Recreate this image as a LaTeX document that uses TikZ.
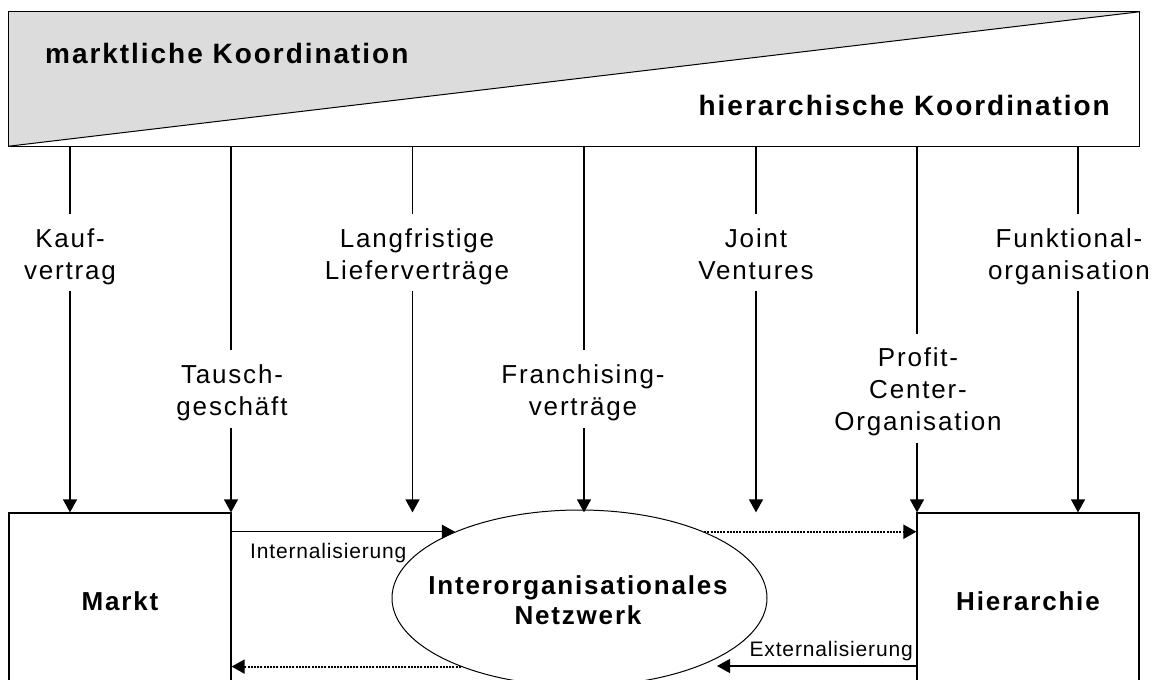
\documentclass[tikz,border=0pt]{standalone}
\usepackage{fontspec}
\setmainfont{Liberation Sans}
\newfontfamily\spaced[LetterSpace=7]{Liberation Sans}
\newfontfamily\spacedsmall[LetterSpace=4]{Liberation Sans}
\usetikzlibrary{arrows.meta, shapes.geometric, calc}
\definecolor{headgray}{HTML}{DCDCDC}

\begin{document}
\begin{tikzpicture}[
  x=1pt, y=-1pt,
  head/.style={inner sep=0pt, font=\spaced\bfseries\fontsize{28}{34}\selectfont},
  lab/.style={align=center, inner sep=0pt, anchor=north,
              font=\spaced\fontsize{26}{32}\selectfont},
  small/.style={inner sep=0pt, font=\spacedsmall\fontsize{21}{25}\selectfont},
  box/.style={draw, overlay, line width=1.2pt, inner sep=0pt, minimum width=222pt,
              minimum height=177pt, font=\spaced\bfseries\fontsize{26}{30}\selectfont},
  conn/.style={line width=1.2pt},
  arr/.style={-{Triangle[length=13pt, width=14pt]}, line width=1.2pt},
  dots/.style={line width=2pt, dash pattern=on 2pt off 1.2pt},
]
\useasboundingbox (0,0) rectangle (1160,680);
\clip (0,0) rectangle (1160,680);

% top bar: market vs. hierarchy
\node[minimum width=1130pt, minimum height=134pt, inner sep=0pt] (koord) at (574,79) {};
\fill[headgray] (koord.north west) -- (koord.north east) -- (koord.south west) -- cycle;
\draw[line width=1pt] (koord.south west) -- (koord.north east);
\draw[line width=1.2pt] (koord.south west) rectangle (koord.north east);
\node[head, anchor=base west] (mk) at (45,63) {marktliche Koordination};
\node[head, anchor=base east] (hk) at (1110,115) {hierarchische Koordination};

% boxes and network
\node[box] (markt) at (120,601.5) {Markt};
\node[box] (hier)  at (1028,601.5) {Hierarchie};
\node[draw, overlay, ellipse, line width=1pt, inner sep=0pt, minimum width=375pt,
      minimum height=176pt] (ell) at (579.5,598) {};
\node[align=center, inner sep=0pt, font=\spaced\bfseries\fontsize{26}{30}\selectfont]
  (netz) at (578,600.5) {Interorganisationales\\Netzwerk};

% forms of coordination
\node[lab] (kauf)   at (70,228)   {Kauf-\\vertrag};
\node[lab] (tausch) at (232,364)  {Tausch-\\geschäft};
\node[lab] (liefer) at (417,228)  {Langfristige\\Lieferverträge};
\node[lab] (franch) at (583,364)  {Franchising-\\verträge};
\node[lab] (joint)  at (756,228)  {Joint\\Ventures};
\node[lab] (profit) at (918,347)  {Profit-\\Center-\\Organisation};
\node[lab] (funkt)  at (1069,228) {Funktional-\\organisation};

\coordinate (c1) at (70,146);
\coordinate (c2) at (231,146);
\coordinate (c3) at (412.5,146);
\coordinate (c4) at (584,146);
\coordinate (c5) at (756,146);
\coordinate (c6) at (917,146);
\coordinate (c7) at (1078,146);

\draw[conn] (c1) -- ($(c1 |- kauf.north)+(0,-14)$);
\draw[arr] ($(c1 |- kauf.south)+(0,6.5)$) -- (c1 |- markt.north);
\draw[conn] (c2) -- ($(c2 |- tausch.north)+(0,-14)$);
\draw[arr] ($(c2 |- tausch.south)+(0,7)$) -- (c2 |- markt.north);
\draw[conn] (c3) -- ($(c3 |- liefer.north)+(0,-14)$);
\draw[arr] ($(c3 |- liefer.south)+(0,6.5)$) -- (c3 |- markt.north);
\draw[conn] (c4) -- ($(c4 |- franch.north)+(0,-14)$);
\draw[arr] ($(c4 |- franch.south)+(0,7)$) -- (c4 |- markt.north);
\draw[conn] (c5) -- ($(c5 |- joint.north)+(0,-14)$);
\draw[arr] ($(c5 |- joint.south)+(0,12)$) -- (c5 |- markt.north);
\draw[conn] (c6) -- ($(c6 |- profit.north)+(0,-13)$);
\draw[arr] ($(c6 |- profit.south)+(0,7)$) -- (c6 |- markt.north);
\draw[conn] (c7) -- ($(c7 |- funkt.north)+(0,-14)$);
\draw[arr] ($(c7 |- funkt.south)+(0,6.5)$) -- (c7 |- markt.north);

% internalisation / externalisation
\draw[arr] (ell.152 -| markt.east) -- (ell.152);
\node[small, anchor=base west] (intl) at (250,558) {Internalisierung};
\draw[arr, dots] (ell.28) -- (ell.28 -| hier.west);
\coordinate (extTip) at (717,666);
\draw[arr] (extTip -| hier.west) -- (extTip);
\node[small, anchor=base east] (extl) at (913,656) {Externalisierung};
\draw[arr, dots] (ell.210) -- (ell.210 -| markt.east);
\end{tikzpicture}
\end{document}
